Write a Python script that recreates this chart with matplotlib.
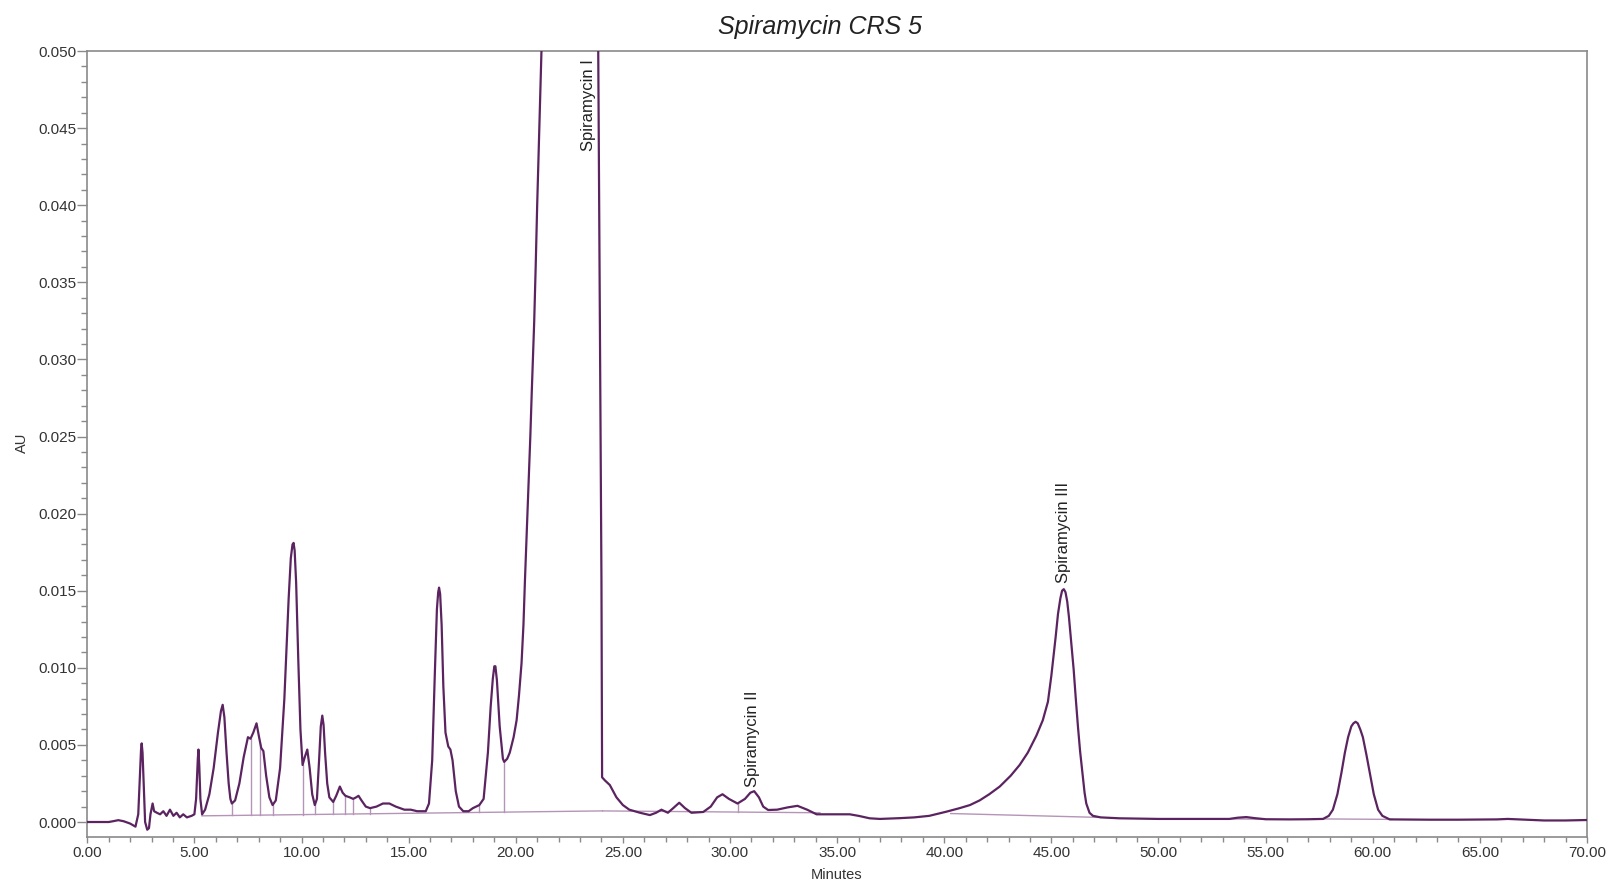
import numpy as np
import matplotlib
matplotlib.use("Agg")
import matplotlib.pyplot as plt
from matplotlib.ticker import MultipleLocator, FormatStrFormatter

plt.rcParams['font.family'] = ['Liberation Sans', 'DejaVu Sans']

# chromatogram trace: retention time (min) and absorbance (AU)
time_min = [
    0.0, 1.0, 1.2, 1.45, 1.7, 2.0, 2.25, 2.38, 2.46, 2.51, 2.54, 2.58, 2.62, 2.7, 2.8, 2.88, 2.95,
    3.05, 3.12, 3.25, 3.4, 3.55, 3.7, 3.86, 4.02, 4.17, 4.32, 4.48, 4.65, 4.87, 5.0,
    5.08, 5.16, 5.19, 5.23, 5.28, 5.36, 5.5, 5.7, 5.9, 6.1, 6.24, 6.32, 6.4, 6.5, 6.6, 6.68, 6.75, 6.9,
    7.1, 7.3, 7.5, 7.62, 7.75, 7.9, 8.02, 8.12, 8.22, 8.35, 8.5, 8.65, 8.8, 9.0,
    9.2, 9.4, 9.5, 9.58, 9.63, 9.68, 9.75, 9.85, 9.95, 10.05, 10.15, 10.27, 10.38, 10.5, 10.62,
    10.72, 10.82, 10.9, 10.97, 11.03, 11.1, 11.2, 11.3, 11.48, 11.62, 11.79, 11.92,
    12.05, 12.25, 12.41, 12.55, 12.66, 12.8, 13.0, 13.2, 13.5, 13.8, 14.1, 14.4,
    14.8, 15.1, 15.4, 15.8, 15.95, 16.1, 16.22, 16.32, 16.38, 16.42, 16.47, 16.54, 16.62, 16.72,
    16.85, 16.95, 17.05, 17.2, 17.35, 17.55, 17.8, 18.0, 18.3, 18.5, 18.7, 18.83,
    18.93, 19.0, 19.05, 19.12, 19.25, 19.4, 19.46, 19.6, 19.72, 19.9, 20.04, 20.15, 20.27,
    20.36, 20.43, 20.52, 20.6, 20.68, 20.75, 20.86, 20.93, 21.0, 21.1, 21.2, 21.5, 22.0, 22.5, 23.0, 23.4, 23.7, 23.8,
    23.85, 23.93, 24.0, 24.03, 24.16, 24.39, 24.7, 25.0, 25.3, 25.8, 26.26, 26.55,
    26.8, 27.1, 27.35, 27.63, 27.9, 28.2, 28.75, 29.1, 29.4, 29.65, 29.95, 30.35,
    30.7, 30.95, 31.13, 31.35, 31.55, 31.78, 32.2, 32.7, 33.15, 33.6, 34.04, 34.6,
    35.59, 36.0, 36.52, 37.0, 37.92, 38.6, 39.3, 40.1, 40.72, 41.2, 41.65, 42.1,
    42.59, 43.1, 43.52, 43.9, 44.3, 44.6, 44.84, 45.0, 45.08, 45.2, 45.31, 45.42, 45.5,
    45.58, 45.66, 45.74, 45.82, 45.93, 46.04, 46.14, 46.24, 46.34, 46.45, 46.55, 46.63,
    46.78, 46.94, 47.3, 48.19, 50.0, 52.0, 53.3, 53.7, 54.1, 54.5, 55.0, 56.12,
    57.0, 57.68, 57.95, 58.14, 58.35, 58.54, 58.7, 58.85, 59.0, 59.1, 59.2, 59.3, 59.42, 59.54,
    59.7, 59.86, 60.05, 60.25, 60.45, 60.79, 62.66, 64.0, 65.8, 66.3, 67.0, 68.0,
    69.0, 70.0,
]
au = [
    0.0, 0.0, 0.00005, 0.00012, 0.00005, -0.0001, -0.0003, 0.0005, 0.003, 0.0047, 0.0051, 0.0045, 0.003, 0.0, -0.0005, -0.0004, 0.0005,
    0.0012, 0.0007, 0.0006, 0.0005, 0.0007, 0.0004, 0.0008, 0.0004, 0.0006, 0.0003, 0.0005, 0.0003, 0.0004, 0.0005,
    0.0015, 0.0041, 0.0047, 0.0036, 0.0015, 0.0005, 0.0008, 0.0018, 0.0035, 0.0058, 0.0072, 0.0076, 0.0068, 0.0045, 0.0025, 0.0015, 0.0012, 0.0014,
    0.0025, 0.0042, 0.0055, 0.0054, 0.0058, 0.0064, 0.0055, 0.0048, 0.0046, 0.003, 0.0016, 0.0011, 0.0014, 0.0035,
    0.008, 0.0145, 0.0171, 0.018, 0.0181, 0.0176, 0.0155, 0.0105, 0.006, 0.0037, 0.0042, 0.0047, 0.0035, 0.0018, 0.0011,
    0.0015, 0.004, 0.0062, 0.0069, 0.0063, 0.0045, 0.0025, 0.0016, 0.0013, 0.0017, 0.0023, 0.0019,
    0.0017, 0.0016, 0.0015, 0.0016, 0.0017, 0.0014, 0.001, 0.0009, 0.001, 0.0012, 0.0012, 0.001,
    0.0008, 0.0008, 0.0007, 0.0007, 0.0012, 0.004, 0.0095, 0.0138, 0.0149, 0.0152, 0.0148, 0.0128, 0.0088, 0.0058,
    0.0049, 0.0047, 0.004, 0.002, 0.001, 0.0007, 0.0007, 0.0009, 0.0011, 0.0015, 0.0045, 0.0075,
    0.0093, 0.0101, 0.0101, 0.0092, 0.0062, 0.0041, 0.0039, 0.0041, 0.0045, 0.0055, 0.0066, 0.0082, 0.0103,
    0.0128, 0.0157, 0.019, 0.022, 0.025, 0.028, 0.0324, 0.036, 0.040, 0.045, 0.050, 0.065, 0.09, 0.12, 0.16, 0.2, 0.22, 0.2,
    0.05, 0.032, 0.0157, 0.0029, 0.0027, 0.0024, 0.0016, 0.0011, 0.0008, 0.0006, 0.00045, 0.0006,
    0.0008, 0.0006, 0.0009, 0.00125, 0.0009, 0.0006, 0.00065, 0.001, 0.0016, 0.0018, 0.0015, 0.0012,
    0.0015, 0.0019, 0.0020, 0.0016, 0.001, 0.00078, 0.0008, 0.00095, 0.00105, 0.0008, 0.0005, 0.0005,
    0.0005, 0.0004, 0.00024, 0.0002, 0.00025, 0.0003, 0.0004, 0.00067, 0.0009, 0.0011, 0.0014, 0.0018,
    0.0023, 0.003, 0.0037, 0.0045, 0.0056, 0.0066, 0.0078, 0.0095, 0.0105, 0.012, 0.0135, 0.0145, 0.0150,
    0.0151, 0.0149, 0.0143, 0.0133, 0.0116, 0.0099, 0.008, 0.0062, 0.0046, 0.0032, 0.0019, 0.0012,
    0.0006, 0.0004, 0.0003, 0.00024, 0.0002, 0.0002, 0.0002, 0.00028, 0.00032, 0.00025, 0.00018, 0.00017,
    0.00018, 0.0002, 0.0004, 0.0008, 0.0018, 0.0032, 0.0045, 0.0055, 0.0062, 0.0064, 0.0065, 0.0064, 0.006, 0.0055,
    0.0044, 0.0032, 0.0018, 0.0008, 0.0004, 0.00017, 0.00015, 0.00015, 0.00017, 0.0002, 0.00016, 0.0001,
    0.0001, 0.00013,
]

# integration baseline segments (start time, start AU, end time, end AU)
base_t0 = [5.35, 24.05, 40.3, 53.3, 57.7]
base_y0 = [0.0004, 0.00072, 0.00055, 0.0002, 0.0002]
base_t1 = [24.05, 34.2, 47.2, 55.0, 60.9]
base_y1 = [0.00072, 0.0006, 0.0003, 0.00018, 0.00017]

# drop lines between unresolved peaks
drop_t = [6.74, 7.62, 8.08, 8.65, 10.05, 10.64, 11.48, 12.05, 12.41, 13.19, 18.3, 19.46, 30.38]

# peak labels
peak_names = ['Spiramycin I', 'Spiramycin II', 'Spiramycin III']
peak_label_t = [23.4, 31.06, 45.56]
peak_label_y = [0.0435, 0.00225, 0.0155]

trace_col = '#5b2460'
base_col = '#b594b8'

fig = plt.figure(figsize=(16.1, 8.84), dpi=100)
ax = fig.add_axes([0.0542, 0.0532, 0.9315, 0.8891])

ax.plot(time_min, au, color=trace_col, lw=1.6, zorder=3)

for t0, y0, t1, y1 in zip(base_t0, base_y0, base_t1, base_y1):
    ax.plot([t0, t1], [y0, y1], color=base_col, lw=1.0, zorder=2)

# bottom of each drop line sits on the baseline, top on the trace
all_bt = np.concatenate([base_t0, base_t1])
all_by = np.concatenate([base_y0, base_y1])
order = np.argsort(all_bt)
for t in drop_t:
    yb = np.interp(t, all_bt[order], all_by[order])
    yt = np.interp(t, time_min, au)
    ax.plot([t, t], [yb, yt], color=base_col, lw=1.0, zorder=2)

for name, t, y in zip(peak_names, peak_label_t, peak_label_y):
    ax.text(t, y, name, rotation=90, ha='center', va='bottom', fontsize=12, color='#222222')

ax.set_xlim(0, 70)
ax.set_ylim(-0.00097, 0.050)
ax.xaxis.set_major_locator(MultipleLocator(5))
ax.xaxis.set_minor_locator(MultipleLocator(1))
ax.yaxis.set_major_locator(MultipleLocator(0.005))
ax.yaxis.set_minor_locator(MultipleLocator(0.001))
ax.xaxis.set_major_formatter(FormatStrFormatter('%.2f'))
ax.yaxis.set_major_formatter(FormatStrFormatter('%.3f'))

for s in ax.spines.values():
    s.set_color('#8a8a8a')
    s.set_linewidth(1.2)
ax.tick_params(axis='both', which='both', colors='#8a8a8a', labelcolor='#333333', labelsize=11)
ax.tick_params(axis='y', which='major', length=7, width=1.0, pad=1)
ax.tick_params(axis='y', which='minor', length=4, width=1.0)
ax.tick_params(axis='x', which='major', length=4.5, width=1.0, pad=2)
ax.tick_params(axis='x', which='minor', length=3.5, width=1.0)

fig.text(820 / 1610, 1 - 27 / 884, 'Spiramycin CRS 5', ha='center', va='center',
         fontsize=18, style='italic', color='#222222')
fig.text(837 / 1610, 1 - 875 / 884, 'Minutes', ha='center', va='center', fontsize=10.5, color='#333333')
fig.text(22 / 1610, 1 - 443 / 884, 'AU', ha='center', va='center', rotation=90, fontsize=10.5, color='#333333')

fig.savefig('out.png', dpi=100)
